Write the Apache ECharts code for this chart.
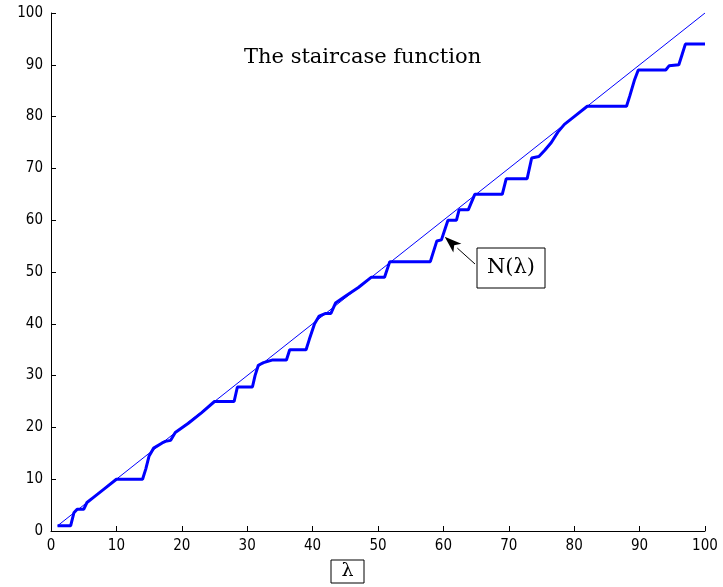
<!DOCTYPE html>
<html><head><meta charset="utf-8">
<script src="https://cdn.jsdelivr.net/npm/echarts@6/dist/echarts.min.js"></script>
<style>html,body{margin:0;padding:0;background:#fff}#c{width:723px;height:587px}</style>
</head><body><div id="c"></div>
<script>
const stairX = [1,3,3.5,4,5,5.5,6.5,8,10,14,14.5,15,15.7,17,17.5,18.3,19,21,23,25,28,28.5,30.8,31.2,31.7,32.5,33.8,36,36.5,39,39.5,40.3,41,42,42.8,43.5,45,47,49,51,51.8,58,59,59.7,60.3,60.7,62,62.4,63.8,64.8,69,69.6,72.8,73.5,74.6,75.5,76.5,77.5,78.5,80,82,88,88.5,89.2,89.8,94,94.5,96,96.5,97,100];
const stairY = [1,1,3.5,4.2,4.2,5.5,6.5,8,10,10,12,14.5,16,17,17.3,17.5,19,20.8,22.8,25,25,27.8,27.8,30,32,32.5,33,33,35,35,37,40,41.5,42,42,44,45.3,47,49,49,52,52,56,56.2,58.5,60,60,62,62,65,65,68,68,72,72.3,73.5,75,77,78.5,80,82,82,84,87,89,89,89.8,90,92,94,94];
const lineX = [1,100];
const lineY = [1,100];
const xTicks = [0,10,20,30,40,50,60,70,80,90,100];
const yTicks = [0,10,20,30,40,50,60,70,80,90,100];
const titleText = 'The staircase function';
const annotText = 'N(λ)';
const annotPoint = [60.2, 56.8];

const chart = echarts.init(document.getElementById('c'));
const tickFont = {fontFamily:'Liberation Sans Narrow, DejaVu Sans Condensed, Liberation Sans, sans-serif', fontSize:15, color:'#000'};
chart.setOption({
  animation:false,
  grid:{left:51, right:18, top:13, bottom:56},
  title:{text:titleText, left:239, top:42, textStyle:{fontFamily:'DejaVu Serif, Liberation Serif, serif', fontWeight:'normal', fontSize:21, color:'#000'}},
  xAxis:{type:'value', min:xTicks[0], max:xTicks[xTicks.length-1], interval:10,
    axisLine:{onZero:false, lineStyle:{color:'#000', width:1}},
    axisTick:{inside:true, length:5, lineStyle:{color:'#000'}},
    axisLabel:Object.assign({margin:8}, tickFont), splitLine:{show:false}},
  yAxis:{type:'value', min:yTicks[0], max:yTicks[yTicks.length-1], interval:10,
    axisLine:{show:true, onZero:false, lineStyle:{color:'#000', width:1}},
    axisTick:{show:true, inside:true, length:5, lineStyle:{color:'#000'}},
    axisLabel:Object.assign({margin:8}, tickFont), splitLine:{show:false}},
  series:[
    {type:'line', data:lineX.map((x,i)=>[x,lineY[i]]), symbol:'none', lineStyle:{color:'#0000ff', width:1}},
    {type:'line', data:stairX.map((x,i)=>[x,stairY[i]]), symbol:'none', lineStyle:{color:'#0000ff', width:3}}
  ]
});

const p = chart.convertToPixel({gridIndex:0}, annotPoint);
const tail = [475, 264];
const dx = p[0]-tail[0], dy = p[1]-tail[1];
const len = Math.sqrt(dx*dx+dy*dy), ux = dx/len, uy = dy/len;
const hl = 17, hw = 6;
const bx = p[0]-ux*hl, by = p[1]-uy*hl;
chart.setOption({graphic:[
  {type:'line', shape:{x1:tail[0], y1:tail[1], x2:bx, y2:by}, style:{stroke:'#000', lineWidth:1}},
  {type:'polygon', shape:{points:[[p[0],p[1]],[bx-uy*hw, by+ux*hw],[p[0]-ux*hl*0.75, p[1]-uy*hl*0.75],[bx+uy*hw, by-ux*hw]]}, style:{fill:'#000'}},
  {type:'rect', shape:{x:477, y:248, width:68, height:40}, style:{fill:'#fff', stroke:'#000', lineWidth:1}},
  {type:'text', x:511, y:268, style:{text:annotText, font:'21px "DejaVu Serif", "Liberation Serif", serif', fill:'#000', align:'center', verticalAlign:'middle'}},
  {type:'rect', shape:{x:331, y:560, width:33, height:23}, style:{fill:'#fff', stroke:'#000', lineWidth:1}},
  {type:'text', x:347.5, y:571, style:{text:'λ', font:'19px "DejaVu Serif", "Liberation Serif", serif', fill:'#000', align:'center', verticalAlign:'middle'}}
]});
</script></body></html>
